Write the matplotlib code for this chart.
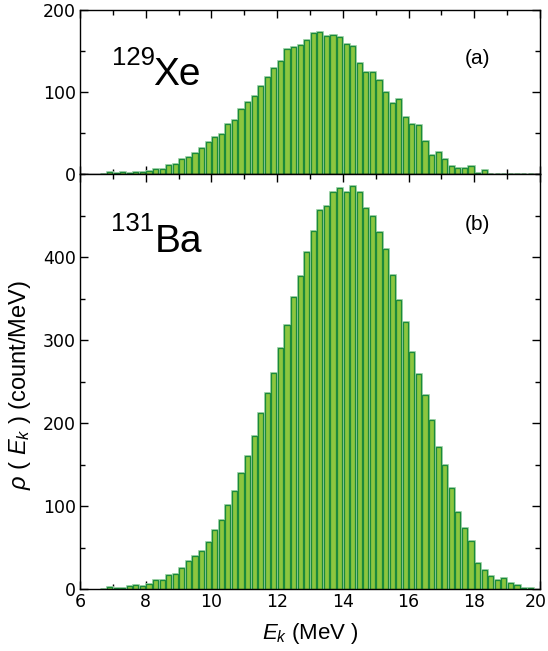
import numpy as np
import matplotlib
matplotlib.use("Agg")
import matplotlib.pyplot as plt
import matplotlib.transforms as mtransforms
from matplotlib.ticker import MultipleLocator

plt.rcParams['font.family'] = ['Liberation Sans', 'DejaVu Sans']
plt.rcParams['mathtext.fontset'] = 'custom'
plt.rcParams['mathtext.rm'] = 'Liberation Sans'
plt.rcParams['mathtext.it'] = 'Liberation Sans:italic'

# bin centres (MeV), 0.2 MeV bins
energy = np.round(np.arange(6.7, 19.75, 0.2), 1)

xe129 = [0.5, 2.4, 1, 2.5, 1.5, 2.5, 2.5, 4.5, 6.5, 6.5,
         11, 13, 19, 21.5, 25.5, 31.5, 39.5, 45.5, 49, 61,
         66, 79, 88, 95, 108, 118, 129.5, 137.5, 152, 155,
         158, 164, 172, 173, 168, 170, 167, 159, 156, 136,
         125, 125, 114.5, 100.5, 87, 92, 70, 61, 60, 40.5,
         23.5, 27, 18.5, 9.7, 7.3, 7.3, 9.7, 1.2, 5.7, 0.8,
         0.3, 0, 0, 0, 0, 0]

ba131 = [0.5, 3, 2, 1, 4, 5, 4, 6, 11, 11,
         17, 19, 25.5, 34, 40, 46, 57, 71.5, 83.5, 102,
         119, 140, 161, 184.5, 212.5, 237, 261, 291, 319, 352,
         378, 406, 432, 457.5, 461.5, 478.5, 483, 478.5, 485.5, 478.5,
         459, 449.5, 430.5, 410.5, 379, 349, 322, 286, 259, 234.5,
         203.5, 171.5, 149.5, 122.5, 93.5, 74, 58.5, 31.5, 23, 16,
         11.5, 13.5, 7.5, 5, 1, 1]

x_ticks = [6, 8, 10, 12, 14, 16, 18, 20]
top_yticks = [0, 100, 200]
bot_yticks = [0, 100, 200, 300, 400]

W, H = 548, 651
fig = plt.figure(figsize=(W / 100, H / 100), dpi=100)

left = 80 / W
width = 460 / W
ax1 = fig.add_axes([left, 1 - 174.3 / H, width, 164.3 / H])
ax2 = fig.add_axes([left, 1 - 589.3 / H, width, 415 / H])

fill = '#8cc63f'
edge = '#1b8a3b'
halo = '#9fd3a8'

for ax, vals, ymax, yt in [(ax1, xe129, 200, top_yticks), (ax2, ba131, 500, bot_yticks)]:
    ax.bar(energy, vals, width=0.16, color='none', edgecolor=halo, linewidth=2.0, zorder=2)
    ax.bar(energy, vals, width=0.155, color=fill, edgecolor=edge, linewidth=0.9, zorder=3)
    ax.set_xlim(6, 20)
    ax.set_ylim(0, ymax)
    ax.set_xticks(x_ticks)
    ax.xaxis.set_minor_locator(MultipleLocator(1))
    ax.set_yticks(yt)
    ax.yaxis.set_minor_locator(MultipleLocator(50))
    ax.tick_params(which='both', direction='in', top=True, right=True, labelsize=12.5, width=1.0)
    ax.tick_params(which='major', length=6, pad=3)
    ax.tick_params(which='minor', length=3.5)
    for lab in ax.get_xticklabels() + ax.get_yticklabels():
        lab.set_family('DejaVu Sans')
    for s in ax.spines.values():
        s.set_linewidth(1.0)
        s.set_zorder(5)

ax1.tick_params(labelbottom=False)

# keep the last x tick label inside the canvas
lab20 = ax2.get_xticklabels()[-1]
lab20.set_transform(lab20.get_transform() +
                    mtransforms.ScaledTranslation(-4 / 100, 0, fig.dpi_scale_trans))

def px(x, y):
    return x / W, 1 - y / H

fig.text(*px(112, 65), '129', fontsize=18.5, va='baseline', ha='left')
fig.text(*px(153, 85), 'Xe', fontsize=28, va='baseline', ha='left')
fig.text(*px(111, 231), '131', fontsize=18.5, va='baseline', ha='left')
fig.text(*px(155, 251.5), 'Ba', fontsize=28, va='baseline', ha='left')
fig.text(*px(477, 58), '(a)', fontsize=15, va='center', ha='center')
fig.text(*px(477, 224.5), '(b)', fontsize=15, va='center', ha='center')

fig.text(*px(310, 634), r'$E_k$ (MeV )', fontsize=16, va='center', ha='center')
fig.text(*px(20, 385), r'$\rho\ (\ E_k\ )$ (count/MeV)', fontsize=17,
         va='center', ha='center', rotation=90)

fig.savefig('out.png', dpi=100)
